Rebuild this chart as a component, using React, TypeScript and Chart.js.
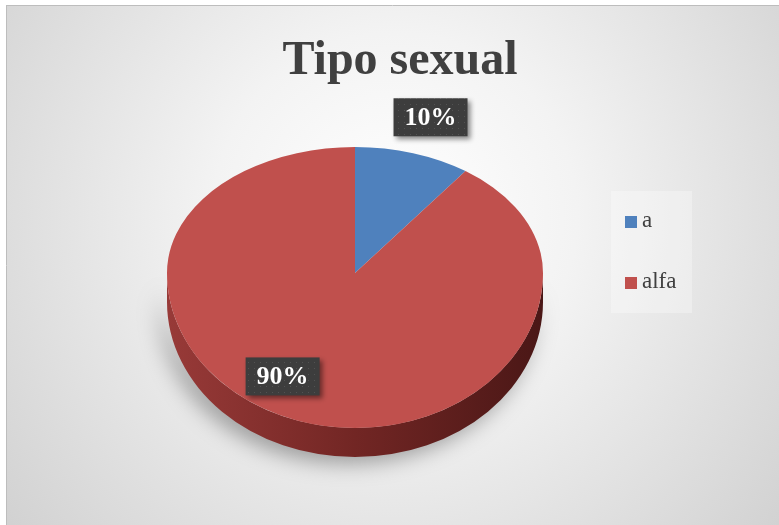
import React, { useEffect, useRef } from 'react';
import { Chart, registerables } from 'chart.js';

Chart.register(...registerables);

const TITLE = 'Tipo sexual';
const categories = ['a', 'alfa'];
const values = [10, 90];
const sliceColors = ['#4f81bd', '#c0504d'];
const sideColors = [
  ['#3d6596', '#2c4b72', '#1e3452'],
  ['#983a38', '#722624', '#4a1716'],
];
// data label placement: angle offset (deg) from slice middle, radial factor
const labelAngleOffset = [0, 12];
const labelRadius = [1.3, 0.77];

const W = 779;
const H = 525;
const TILT_TOP = 0.67;
const TILT_BOTTOM = 0.825;
const DEPTH = 29;
const SERIF = '"Liberation Serif", "Times New Roman", serif';

function makePattern(ctx: CanvasRenderingContext2D) {
  const c = document.createElement('canvas');
  c.width = 6;
  c.height = 6;
  const p = c.getContext('2d')!;
  p.fillStyle = '#3d3d3d';
  p.fillRect(0, 0, 6, 6);
  p.fillStyle = '#525252';
  p.fillRect(2, 2, 1, 1);
  return ctx.createPattern(c, 'repeat')!;
}

const pie3d = {
  id: 'pie3d',
  beforeDraw(chart: any) {
    const ctx: CanvasRenderingContext2D = chart.ctx;
    ctx.save();
    ctx.fillStyle = '#ffffff';
    ctx.fillRect(0, 0, W, H);
    const g = ctx.createRadialGradient(395, 215, 0, 395, 215, 520);
    g.addColorStop(0, '#ffffff');
    g.addColorStop(0.35, '#f3f3f3');
    g.addColorStop(1, '#cfcfcf');
    ctx.fillStyle = g;
    ctx.fillRect(7, 6, W - 7, H - 6);
    ctx.strokeStyle = '#bdbdbd';
    ctx.lineWidth = 1;
    ctx.beginPath();
    ctx.moveTo(6.5, 6);
    ctx.lineTo(6.5, H);
    ctx.moveTo(6, 5.5);
    ctx.lineTo(W, 5.5);
    ctx.stroke();

    // title
    ctx.fillStyle = '#404040';
    ctx.font = `bold 48px ${SERIF}`;
    ctx.textAlign = 'center';
    ctx.textBaseline = 'alphabetic';
    ctx.fillText(TITLE, 400, 74);

    // legend
    const lx = 611, ly = 191, lw = 81, lh = 122;
    ctx.fillStyle = 'rgba(255,255,255,0.3)';
    ctx.fillRect(lx, ly, lw, lh);
    ctx.font = `23px ${SERIF}`;
    ctx.textAlign = 'left';
    ctx.textBaseline = 'middle';
    const ds = chart.data.datasets[0];
    chart.data.labels.forEach((lab: string, i: number) => {
      const y = 216 + i * 61;
      ctx.fillStyle = ds.backgroundColor[i];
      ctx.fillRect(625, y, 12, 12);
      ctx.fillStyle = '#404040';
      ctx.fillText(lab, 642, y + 5);
    });
    ctx.restore();
  },
  beforeDatasetsDraw(chart: any) {
    const ctx: CanvasRenderingContext2D = chart.ctx;
    const meta = chart.getDatasetMeta(0);
    const arcs = meta.data;
    if (!arcs.length) return false;
    const { x: cx, y: cy, outerRadius: r } = arcs[0].getProps(['x', 'y', 'outerRadius'], true);

    // side walls (front half only)
    ctx.save();
    ctx.shadowColor = 'rgba(0,0,0,0.36)';
    ctx.shadowBlur = 22;
    ctx.shadowOffsetX = -7;
    ctx.shadowOffsetY = 6;
    arcs.forEach((arc: any, i: number) => {
      const { startAngle, endAngle } = arc.getProps(['startAngle', 'endAngle'], true);
      const lo = Math.max(startAngle, 0);
      const hi = Math.min(endAngle, Math.PI);
      if (lo >= hi) return;
      const grad = ctx.createLinearGradient(cx - r, 0, cx + r, 0);
      grad.addColorStop(0, sideColors[i][0]);
      grad.addColorStop(0.5, sideColors[i][1]);
      grad.addColorStop(1, sideColors[i][2]);
      ctx.fillStyle = grad;
      ctx.beginPath();
      ctx.ellipse(cx, cy, r, r * TILT_BOTTOM, 0, lo, hi, false);
      ctx.ellipse(cx, cy + DEPTH, r, r * TILT_BOTTOM, 0, hi, lo, true);
      ctx.closePath();
      ctx.fill();
    });
    ctx.restore();

    // top face (piecewise perspective)
    const passes: [number, number, number][] = [
      [0, Math.ceil(cy) + 1, TILT_TOP],
      [Math.floor(cy), H, TILT_BOTTOM],
    ];
    for (const [t, b, k] of passes) {
      ctx.save();
      ctx.beginPath();
      ctx.rect(0, t, W, b - t);
      ctx.clip();
      ctx.translate(0, cy);
      ctx.scale(1, k);
      ctx.translate(0, -cy);
      arcs.forEach((a: any) => a.draw(ctx));
      ctx.restore();
    }

    // data labels
    const data: number[] = chart.data.datasets[0].data;
    const total = data.reduce((s, v) => s + v, 0);
    const pattern = makePattern(ctx);
    arcs.forEach((arc: any, i: number) => {
      const { startAngle, endAngle } = arc.getProps(['startAngle', 'endAngle'], true);
      const mid = (startAngle + endAngle) / 2 + (labelAngleOffset[i] * Math.PI) / 180;
      const f = labelRadius[i];
      const s = Math.sin(mid);
      const x = cx + r * f * Math.cos(mid);
      const y = cy + r * f * s * (s < 0 ? TILT_TOP : TILT_BOTTOM);
      const text = Math.round((data[i] / total) * 100) + '%';
      ctx.save();
      ctx.font = `bold 26px ${SERIF}`;
      const tw = ctx.measureText(text).width;
      const bw = tw + 22;
      const bh = 38;
      ctx.shadowColor = 'rgba(0,0,0,0.45)';
      ctx.shadowBlur = 5;
      ctx.shadowOffsetX = 3;
      ctx.shadowOffsetY = 3;
      ctx.fillStyle = pattern;
      ctx.fillRect(x - bw / 2, y - bh / 2, bw, bh);
      ctx.shadowColor = 'transparent';
      ctx.fillStyle = '#ffffff';
      ctx.textAlign = 'center';
      ctx.textBaseline = 'middle';
      ctx.fillText(text, x, y + 1);
      ctx.restore();
    });
    return false;
  },
};

export default function App() {
  const ref = useRef<HTMLCanvasElement>(null);
  useEffect(() => {
    if (!ref.current) return;
    const chart = new Chart(ref.current, {
      type: 'pie',
      data: {
        labels: categories,
        datasets: [
          {
            data: values,
            backgroundColor: sliceColors,
            borderWidth: 0,
            hoverOffset: 0,
          },
        ],
      },
      options: {
        animation: false,
        responsive: false,
        devicePixelRatio: 1,
        events: [],
        layout: { padding: { left: 167, right: 236, top: 85, bottom: 64 } },
        plugins: {
          legend: { display: false },
          title: { display: false },
          tooltip: { enabled: false },
        },
      },
      plugins: [pie3d],
    } as any);
    return () => chart.destroy();
  }, []);
  return (
    <div style={{ position: 'fixed', left: 0, top: 0, width: W, height: H }}>
      <canvas ref={ref} width={W} height={H} style={{ display: 'block' }} />
    </div>
  );
}
